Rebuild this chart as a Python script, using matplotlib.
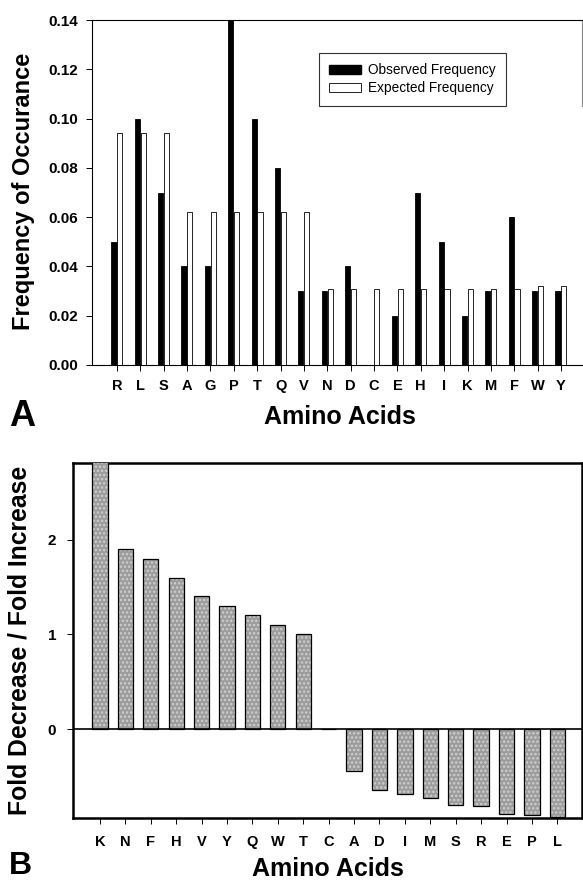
import matplotlib
matplotlib.use("Agg")
import matplotlib.pyplot as plt
import numpy as np
from matplotlib.patches import Patch

plt.rcParams['font.family'] = ['Liberation Sans', 'DejaVu Sans']
plt.rcParams['hatch.linewidth'] = 1.2

# Panel A data
aa_a = ['R', 'L', 'S', 'A', 'G', 'P', 'T', 'Q', 'V', 'N', 'D', 'C', 'E', 'H', 'I', 'K', 'M', 'F', 'W', 'Y']
observed = [0.05, 0.10, 0.07, 0.04, 0.04, 0.14, 0.10, 0.08, 0.03, 0.03, 0.04, 0.0, 0.02, 0.07, 0.05, 0.02, 0.03, 0.06, 0.03, 0.03]
expected = [0.094, 0.094, 0.094, 0.062, 0.062, 0.062, 0.062, 0.062, 0.062, 0.031, 0.031, 0.031, 0.031, 0.031, 0.031, 0.031, 0.031, 0.031, 0.032, 0.032]
yticks_a = [0.00, 0.02, 0.04, 0.06, 0.08, 0.10, 0.12, 0.14]

# Panel B data
aa_b = ['K', 'N', 'F', 'H', 'V', 'Y', 'Q', 'W', 'T', 'C', 'A', 'D', 'I', 'M', 'S', 'R', 'E', 'P', 'L']
fold = [2.9, 1.9, 1.8, 1.6, 1.4, 1.3, 1.2, 1.1, 1.0, 0.0, -0.44, -0.64, -0.69, -0.73, -0.80, -0.81, -0.90, -0.91, -0.93]
yticks_b = [0, 1, 2]

W, H = 583, 882
fig = plt.figure(figsize=(W / 100, H / 100), dpi=100)

def fx(px):
    return px / W

def fy(py):
    return 1 - py / H

# ---------- Panel A ----------
axA = fig.add_axes([fx(92), fy(365), fx(582) - fx(92), fy(20) - fy(365)])
x = np.arange(len(aa_a))
bw = 0.22
axA.bar(x - 0.13, observed, width=bw, color='black', edgecolor='black', linewidth=0.6, zorder=3)
axA.bar(x + 0.12, expected, width=bw, color='white', edgecolor='black', linewidth=0.6, zorder=3)
axA.set_xlim(-1.07, 19.9)
axA.set_ylim(0, 0.14)
axA.set_yticks(yticks_a)
axA.set_yticklabels([f"{v:.2f}" for v in yticks_a], fontsize=11, fontweight='bold')
axA.set_xticks(x)
axA.set_xticklabels(aa_a, fontsize=10.5, fontweight='bold')
axA.tick_params(axis='x', direction='out', length=4, width=0.7, pad=6)
axA.tick_params(axis='y', direction='out', length=4, width=0.7, pad=6)
for s in ['left', 'bottom', 'top']:
    axA.spines[s].set_linewidth(0.8)
axA.spines['right'].set_visible(False)
axA.plot([1, 1], [1, 0.75], transform=axA.transAxes, color='#888888', lw=0.8, clip_on=False)

handles = [Patch(facecolor='black', edgecolor='black'), Patch(facecolor='white', edgecolor='black', linewidth=0.6)]
leg = axA.legend(handles, ['Observed Frequency', 'Expected Frequency'],
                 loc='upper left', bbox_to_anchor=(0.463, 0.904), borderaxespad=0,
                 prop={'size': 9.8}, frameon=True, fancybox=False, edgecolor='black',
                 handlelength=2.35, handleheight=0.65, handletextpad=0.5,
                 borderpad=0.75, labelspacing=0.3)
leg.get_frame().set_linewidth(0.8)

fig.text(fx(24), fy(191), 'Frequency of Occurance', rotation=90, ha='center', va='center',
         fontsize=17, fontweight='bold')
fig.text(fx(340), fy(417), 'Amino Acids', ha='center', va='center', fontsize=18, fontweight='bold')
fig.text(fx(9), fy(417), 'A', ha='left', va='center', fontsize=26, fontweight='bold')

# ---------- Panel B ----------
axB = fig.add_axes([fx(73), fy(818), fx(582) - fx(73), fy(463) - fy(818)])
xb = np.arange(len(aa_b))
axB.bar(xb, fold, width=0.6, color='#9c9c9c', edgecolor='#cfcfcf', hatch='....',
        linewidth=0, zorder=3)
axB.bar(xb, fold, width=0.6, fill=False, edgecolor='black', linewidth=0.9, zorder=3.5)
axB.axhline(0, color='black', lw=1.2, zorder=4)
axB.set_xlim(-1.06, 18.97)
axB.set_ylim(-0.94, 2.81)
axB.set_yticks(yticks_b)
axB.set_yticklabels([str(v) for v in yticks_b], fontsize=11, fontweight='bold')
axB.set_xticks(xb)
axB.set_xticklabels(aa_b, fontsize=10.5, fontweight='bold')
axB.tick_params(axis='x', direction='out', length=4, width=0.7, pad=8)
axB.tick_params(axis='y', direction='out', length=4, width=0.7, pad=8)
for s in axB.spines.values():
    s.set_linewidth(1.8)

fig.text(fx(20), fy(640), 'Fold Decrease / Fold Increase', rotation=90, ha='center', va='center',
         fontsize=17.8, fontweight='bold')
fig.text(fx(328), fy(869), 'Amino Acids', ha='center', va='center', fontsize=18, fontweight='bold')
fig.text(fx(9), fy(866), 'B', ha='left', va='center', fontsize=23, fontweight='bold')

fig.savefig('out.png', dpi=100)
